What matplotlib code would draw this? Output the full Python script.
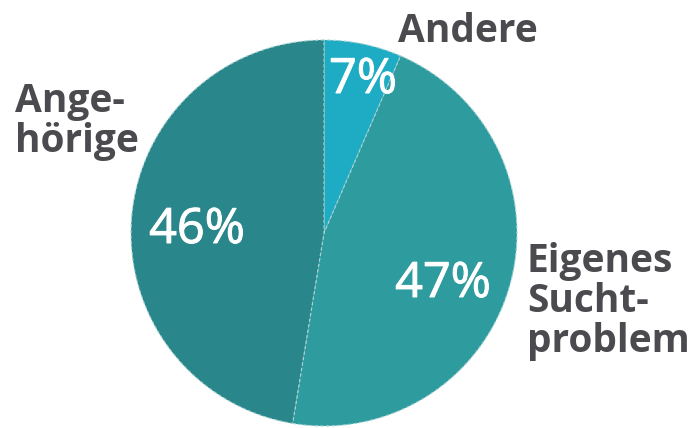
import matplotlib
matplotlib.use("Agg")
import matplotlib.pyplot as plt
import matplotlib.patheffects as pe

# slices, clockwise from 12 o'clock
categories = ["Andere", "Eigenes\nSucht-\nproblem", "Ange-\nhörige"]
shares = [6.5, 46.1, 47.4]          # wedge sizes as drawn
pct_labels = ["7%", "47%", "46%"]   # printed values
colors = ["#1eacc5", "#2e9b9e", "#29868b"]

plt.rcParams["font.family"] = ["Open Sans", "DejaVu Sans"]

W, H = 695, 428
fig = plt.figure(figsize=(W / 100, H / 100), dpi=100)
ax = fig.add_axes([0, 0, 1, 1])

wedges, _ = ax.pie(shares, colors=colors, startangle=90, counterclock=False,
                   center=(324, 195), radius=193,
                   wedgeprops=dict(edgecolor="#a9d3d4", linewidth=0.8,
                                   linestyle=(0, (3, 2))))
ax.set_xlim(0, W)
ax.set_ylim(0, H)
ax.set_aspect("equal")
ax.axis("off")

txt_col = "#4b4a4f"
# category labels (left x, baseline y of last line)
cat_pos = [(398, 386), (527, 76), (15, 276)]
for name, (x, y) in zip(categories, cat_pos):
    ax.text(x, y, name, ha="left", va="baseline", fontsize=28,
            fontweight="bold", color=txt_col, linespacing=1.04)

# percentage labels inside the wedges (regular weight, thickened a bit)
pct_pos = [(363, 335), (443, 131), (197, 185)]
for lab, (x, y) in zip(pct_labels, pct_pos):
    ax.text(x, y, lab, ha="center", va="baseline", fontsize=35,
            color="white",
            path_effects=[pe.withStroke(linewidth=0.7, foreground="white")])

fig.savefig("out.png", dpi=100)
